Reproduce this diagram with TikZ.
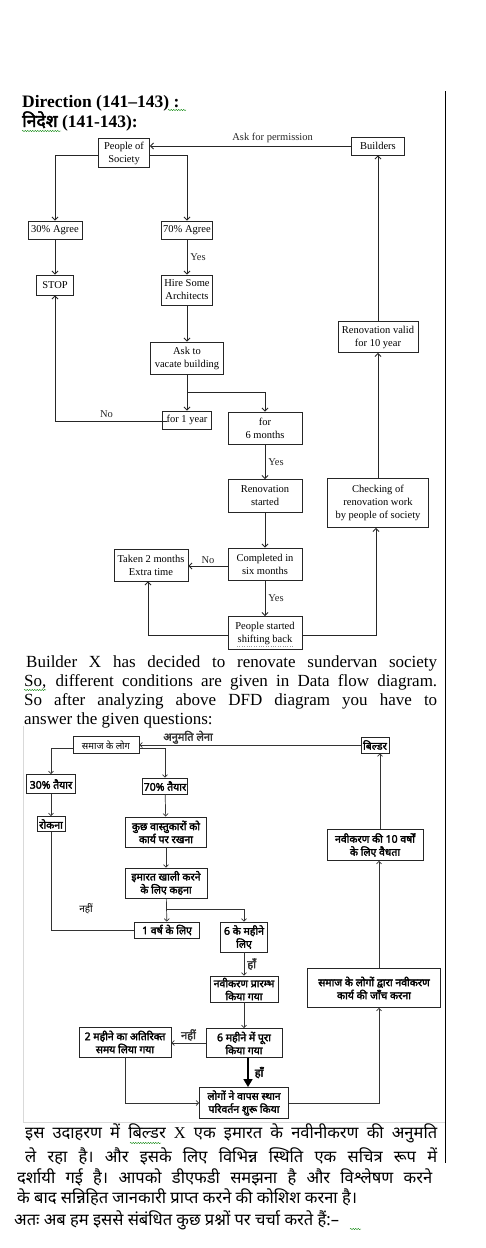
\documentclass[tikz,border=0pt]{standalone}
\usepackage{fontspec}
\setmainfont{Liberation Serif}
\newfontfamily\hindi[Script=Devanagari]{Noto Sans}
\newfontfamily\hindib[Script=Devanagari,FakeBold=2.5]{Noto Sans}
\usetikzlibrary{arrows.meta, positioning, decorations.pathmorphing}

\begin{document}
\begin{tikzpicture}[x=1pt, y=-1pt,
    box/.style={draw=black!85, line width=0.9pt, inner sep=0pt, align=center, font=\fontsize{10.5}{13}\selectfont},
    hbox/.style={draw=black!85, line width=0.9pt, inner sep=0pt, align=center, font=\hindib\fontsize{10.5}{13}\selectfont},
    flow/.style={-{Straight Barb[length=3pt,width=6pt]}, line width=0.8pt, black!85},
    hflow/.style={-{Straight Barb[length=2.5pt,width=5pt]}, line width=0.7pt, black!80},
    lbl/.style={font=\fontsize{10.5}{13}\selectfont, inner sep=0pt},
    hlbl/.style={font=\hindib\fontsize{11}{13}\selectfont, inner sep=0pt},
    spell/.style={draw=green!50!black, line width=0.4pt, decorate, decoration={snake, amplitude=0.6pt, segment length=2.5pt}}
]
    \useasboundingbox (0,0) rectangle (485,1248);

    % frame lines
    \draw[line width=0.8pt] (445,91) -- (445,1163);
    \draw[black!15, line width=1pt] (23,726) -- (23,1122) -- (445,1122);

    % heading
    \node[anchor=base west, inner sep=0pt, font=\bfseries\fontsize{17.5}{20}\selectfont] (dir) at (22,107) {Direction (141–143) :};
    \node[anchor=base west, inner sep=0pt, font=\bfseries\fontsize{17.5}{20}\selectfont] (dirh) at (22,127) {{\hindib निदेश} (141-143):};
    \draw[spell] (168,110) -- (186,110);
    \draw[spell] (22,131) -- (61,131);

    % english flow
    \node[box, minimum width=51pt, minimum height=29pt] (pos) at (124,153) {People of\\Society};
    \node[box, minimum width=53pt, minimum height=18pt] (bld) at (378,146) {Builders};
    \node[box, minimum width=54pt, minimum height=18pt] (a30) at (55,230) {30\% Agree};
    \node[box, minimum width=51pt, minimum height=18pt] (a70) at (187,230) {70\% Agree};
    \node[box, minimum width=37pt, minimum height=20pt] (stop) at (55,285) {STOP};
    \node[box, minimum width=51pt, minimum height=30pt] (hire) at (187,290) {Hire Some\\Architects};
    \node[box, minimum width=73pt, minimum height=32pt] (vac) at (187,358) {Ask to\\vacate building};
    \node[box, minimum width=49pt, minimum height=18pt] (y1) at (187,420) {for 1 year};
    \node[box, minimum width=74pt, minimum height=32pt] (m6) at (265,428) {for\\6 months};
    \node[box, minimum width=74pt, minimum height=33pt] (ren) at (265,496) {Renovation\\started};
    \node[box, minimum width=74pt, minimum height=32pt] (comp) at (265,564) {Completed in\\six months};
    \node[box, minimum width=74pt, minimum height=32pt] (extra) at (151,565) {Taken 2 months\\Extra time};
    \node[box, minimum width=74pt, minimum height=33pt] (shift) at (265,633) {People started\\shifting back};
    \node[box, minimum width=101pt, minimum height=49pt] (check) at (378,503) {Checking of\\renovation work\\by people of society};
    \node[box, minimum width=80pt, minimum height=31pt] (valid) at (378,337) {Renovation valid\\for 10 year};
    \draw[black!40, dotted, line width=0.4pt] (237,646) -- (293,646);

    \draw[flow] (bld.west) -- node[lbl, above=3pt, pos=0.39] {Ask for permission} (bld.west -| pos.east);
    \draw[flow] ([yshift=-2pt]pos.west) -| (a30.north);
    \draw[flow] ([yshift=-2pt]pos.east) -| (a70.north);
    \draw[flow] (a30) -- (stop);
    \draw[flow] (a70) -- node[lbl, right=3pt] {Yes} (hire);
    \draw[flow] (hire) -- (vac);
    \draw[flow] (vac) -- (y1);
    \coordinate (br) at ([yshift=-18pt]vac.south);
    \draw[flow] (br) -| (m6.north);
    \draw[flow] ([xshift=5pt,yshift=-1pt]y1.west) -| node[lbl, above=3pt, pos=0.27] {No} (stop.south);
    \draw[flow] (m6) -- node[lbl, right=3pt] {Yes} (ren);
    \draw[flow] (ren) -- (comp);
    \draw[flow] ([yshift=-2pt]comp.west) -- node[lbl, above=2pt] {No} ([yshift=-2pt]comp.west -| extra.east);
    \draw[flow] (comp) -- node[lbl, right=3pt] {Yes} (shift);
    \draw[flow] ([yshift=-2pt]shift.west) -| ([xshift=-3pt]extra.south);
    \draw[flow] ([yshift=-2pt]shift.east) -| ([xshift=-2pt]check.south);
    \draw[flow] (check) -- (valid);
    \draw[flow] (valid) -- (bld);

    % english text
    \begin{scope}[every node/.style={anchor=base west, inner sep=0pt, font=\fontsize{17}{19}\selectfont}]
        \node (t1) at (26,667) {\makebox[411pt][s]{Builder X has decided to renovate sundervan society}};
        \node (t2) at (24,686) {\makebox[413pt][s]{So, different conditions are given in Data flow diagram.}};
        \node (t3) at (24,705) {\makebox[413pt][s]{So after analyzing above DFD diagram you have to}};
        \node (t4) at (24,724) {answer the given questions:};
    \end{scope}
    \draw[spell] (24,690) -- (46,690);

    % hindi flow
    \node[hbox, minimum width=66pt, minimum height=17pt, font=\hindi\fontsize{9.5}{11}\selectfont] (hpos) at (106,745) {समाज के लोग};
    \node[hbox, minimum width=28pt, minimum height=16pt] (hbld) at (375,745) {बिल्डर};
    \node[hbox, minimum width=49pt, minimum height=19pt] (h30) at (51,784) {30\% तैयार};
    \node[hbox, minimum width=45pt, minimum height=16pt] (h70) at (165,786) {70\% तैयार};
    \node[hbox, minimum width=28pt, minimum height=15pt] (hstop) at (51,824) {रोकना};
    \node[hbox, minimum width=81pt, minimum height=30pt] (hhire) at (166,832) {कुछ वास्तुकारों को\\कार्य पर रखना};
    \node[hbox, minimum width=82pt, minimum height=30pt] (hvac) at (166,883) {इमारत खाली करने\\के लिए कहना};
    \node[hbox, minimum width=65pt, minimum height=16pt] (hy1) at (167,930) {1 वर्ष के लिए};
    \node[hbox, minimum width=47pt, minimum height=30pt] (hm6) at (244,937) {6 के महीने\\लिए};
    \node[hbox, minimum width=68pt, minimum height=26pt] (hren) at (244,989) {नवीकरण प्रारम्भ\\किया गया};
    \node[hbox, minimum width=76pt, minimum height=29pt] (hcomp) at (244,1043) {6 महीने में पूरा\\किया गया};
    \node[hbox, minimum width=92pt, minimum height=30pt] (hextra) at (125,1042) {2 महीने का अतिरिक्त\\समय लिया गया};
    \node[hbox, minimum width=89pt, minimum height=31pt] (hshift) at (244,1103) {लोगों ने वापस स्थान\\परिवर्तन शुरू किया};
    \node[hbox, minimum width=133pt, minimum height=39pt] (hcheck) at (374,988) {समाज के लोगों द्वारा नवीकरण\\कार्य की जाँच करना};
    \node[hbox, minimum width=96pt, minimum height=31pt] (hvalid) at (375,845) {नवीकरण की 10 वर्षों\\के लिए वैधता};

    \draw[hflow] (hbld.west) -- node[hlbl, above=1pt, pos=0.78] {अनुमति लेना} (hbld.west -| hpos.east);
    \draw[hflow] ([yshift=-3pt]hpos.west) -| (h30.north);
    \draw[hflow] ([yshift=-3pt]hpos.east) -| (h70.north);
    \draw[hflow] (h30) -- (hstop);
    \draw[hflow] (h70) -- (hhire);
    \draw[hflow] (hhire) -- (hvac);
    \draw[hflow] (hvac) -- (hy1);
    \coordinate (hbr) at ([yshift=-11pt]hvac.south);
    \draw[hflow] (hbr) -| (hm6.north);
    \draw[line width=0.7pt, black!80] (hy1.west) -| (hstop.south);
    \node[inner sep=0pt, font=\hindi\fontsize{10}{12}\selectfont] (hno) at (86,909) {नहीं};
    \draw[hflow] (hm6) -- node[hlbl, right=3pt] {हाँ} (hren);
    \draw[hflow] (hren) -- (hcomp);
    \draw[hflow] (hcomp.west) -- node[hlbl, above=2pt] {नहीं} (hcomp.west -| hextra.east);
    \draw[line width=1.6pt, -{Triangle[length=8pt,width=9pt]}] ([xshift=4pt]hcomp.south) -- node[hlbl, right=6pt] {हाँ} ([xshift=4pt]hcomp.south |- hshift.north);
    \draw[hflow] (hextra.south) |- (hshift.west);
    \draw[hflow] (hshift.east) -| ([xshift=5pt]hcheck.south);
    \draw[hflow] ([xshift=5pt]hcheck.north) -- ([xshift=5pt]hcheck.north |- hvalid.south);
    \draw[hflow] ([xshift=5pt]hvalid.north) -- ([xshift=5pt]hvalid.north |- hbld.south);

    % hindi text
    \begin{scope}[every node/.style={anchor=base west, inner sep=0pt, font=\hindi\fontsize{16.5}{20}\selectfont}]
        \node (u1) at (25,1138) {\makebox[412pt][s]{इस उदाहरण में बिल्डर {\rmfamily X} एक इमारत के नवीनीकरण की अनुमति}};
        \node (u2) at (25,1162) {\makebox[412pt][s]{ले रहा है। और इसके लिए विभिन्न स्थिति एक सचित्र रूप में}};
        \node (u3) at (17,1183) {\makebox[415pt][s]{दर्शायी गई है। आपको डीएफडी समझना है और विश्लेषण करने}};
        \node (u4) at (17,1203) {के बाद सन्निहित जानकारी प्राप्त करने की कोशिश करना है।};
        \node (u5) at (14,1225) {अतः अब हम इससे संबंधित कुछ प्रश्नों पर चर्चा करते हैं:–};
    \end{scope}
    \draw[spell] (130,1143) -- (161,1143);
    \draw[spell] (350,1229) -- (361,1229);
\end{tikzpicture}
\end{document}
